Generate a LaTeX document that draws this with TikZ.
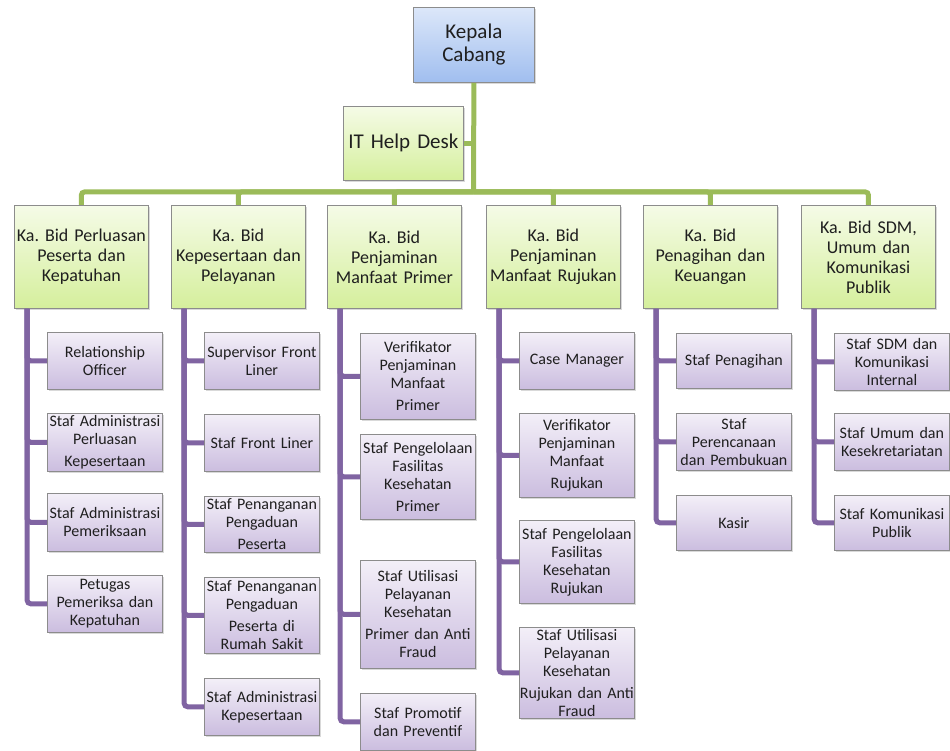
\documentclass[tikz,border=0pt]{standalone}
\usepackage{fontspec}
\setmainfont{Carlito}
\usepackage{tikz}
\usetikzlibrary{calc,shadows}
\frenchspacing
\definecolor{biru1}{HTML}{DCE7F9}
\definecolor{biru2}{HTML}{A0BEEF}
\definecolor{hijau1}{HTML}{F5FBE7}
\definecolor{hijau2}{HTML}{D5EF9C}
\definecolor{ungu1}{HTML}{F3EFF8}
\definecolor{ungu2}{HTML}{CBBDDF}
\definecolor{tepi}{HTML}{8C8C8C}
\definecolor{hijauc}{HTML}{9BBB59}
\definecolor{unguc}{HTML}{8064A2}
\tikzset{
  kotak/.style={draw=tepi,line width=0.8pt,anchor=north west,align=center,inner sep=0pt,text=black!88,
    drop shadow={shadow xshift=2pt,shadow yshift=-2pt,opacity=0.3}},
  kepala/.style={kotak,top color=biru1,bottom color=biru2,font=\fontsize{21pt}{23pt}\selectfont},
  bid/.style={kotak,top color=hijau1,bottom color=hijau2,minimum width=134pt,minimum height=103pt,text width=134pt,font=\fontsize{18pt}{20pt}\selectfont},
  staf/.style={kotak,top color=ungu1,bottom color=ungu2,minimum width=115pt,minimum height=57pt,text width=115pt,font=\fontsize{16pt}{18pt}\selectfont},
  hj/.style={draw=hijauc,line width=5pt,rounded corners=3pt},
  ug/.style={draw=unguc,line width=5pt,rounded corners=4pt}
}
\begin{document}
\begin{tikzpicture}[x=1pt,y=-1pt]
\useasboundingbox (0,0) rectangle (950,751);
\node[kepala,minimum width=121pt,minimum height=75pt] (kc) at (413,7) {Kepala\\Cabang};
\node[bid,font=\fontsize{21pt}{23pt}\selectfont,minimum width=120pt,minimum height=74pt,text width=120pt] (it) at (343,106) {IT Help Desk};
\coordinate (bus) at (473.5,192);
\node[bid] (b1) at (14,205) {Ka. Bid Perluasan\\Peserta dan\\Kepatuhan};
\node[bid] (b2) at (171,205) {Ka. Bid\\Kepesertaan dan\\Pelayanan};
\node[bid] (b3) at (327,205) {Ka. Bid\\Penjaminan\\Manfaat Primer};
\node[bid] (b4) at (486,205) {Ka. Bid\\Penjaminan\\Manfaat Rujukan};
\node[bid] (b5) at (643,205) {Ka. Bid\\Penagihan dan\\Keuangan};
\node[bid] (b6) at (801,205) {Ka. Bid SDM,\\Umum dan\\Komunikasi\\Publik};
\node[staf] (s11) at (47,332) {Relationship\\Officer};
\node[staf,minimum height=58pt] (s12) at (47,413) {Staf Administrasi\\Perluasan\\[4pt]Kepesertaan};
\node[staf,minimum height=58pt] (s13) at (47,493) {Staf Administrasi\\Pemeriksaan};
\node[staf] (s14) at (47,575) {Petugas\\Pemeriksa dan\\Kepatuhan};
\node[staf] (s21) at (204,332) {Supervisor Front\\Liner};
\node[staf] (s22) at (204,414) {Staf Front Liner};
\node[staf,minimum height=56pt] (s23) at (204,496) {Staf Penanganan\\Pengaduan\\[4pt]Peserta};
\node[staf,minimum height=76pt] (s24) at (204,577) {Staf Penanganan\\Pengaduan\\[4pt]Peserta di\\Rumah Sakit};
\node[staf] (s25) at (204,678) {Staf Administrasi\\Kepesertaan};
\node[staf,minimum height=86pt] (s31) at (360,333) {Verifikator\\Penjaminan\\Manfaat\\[4pt]Primer};
\node[staf,minimum height=85pt] (s32) at (360,434) {Staf Pengelolaan\\Fasilitas\\Kesehatan\\[4pt]Primer};
\node[staf,minimum height=108pt] (s33) at (360,560) {Staf Utilisasi\\Pelayanan\\Kesehatan\\[4pt]Primer dan Anti\\Fraud};
\node[staf] (s34) at (360,693) {Staf Promotif\\dan Preventif};
\node[staf] (s41) at (519,332) {Case Manager};
\node[staf,minimum height=84pt] (s42) at (519,413) {Verifikator\\Penjaminan\\Manfaat\\[4pt]Rujukan};
\node[staf,minimum height=83pt] (s43) at (519,520) {Staf Pengelolaan\\Fasilitas\\Kesehatan\\Rujukan};
\node[staf,minimum height=91pt] (s44) at (519,627) {Staf Utilisasi\\Pelayanan\\Kesehatan\\[4pt]Rujukan dan Anti\\Fraud};
\node[staf,minimum height=55pt] (s51) at (676,333) {Staf Penagihan};
\node[staf] (s52) at (676,413) {Staf\\Perencanaan\\dan Pembukuan};
\node[staf,minimum height=55pt] (s53) at (676,495) {Kasir};
\node[staf] (s61) at (834,333) {Staf SDM dan\\Komunikasi\\Internal};
\node[staf] (s62) at (834,413) {Staf Umum dan\\Kesekretariatan};
\node[staf,minimum height=55pt] (s63) at (834,495) {Staf Komunikasi\\Publik};
\draw[hj] (kc.south) -- (bus);
\draw[hj] (it.east) -- (it.east -| bus);
\foreach \k in {1,...,6}{\draw[hj] (bus) -| (b\k.north);}
\foreach \k/\n in {1/4,2/5,3/4,4/4,5/3,6/3}{
  \foreach \j in {1,...,\n}{\draw[ug] ($(b\k.south west)+(13,0)$) |- (s\k\j.west);}
}
\end{tikzpicture}
\end{document}
